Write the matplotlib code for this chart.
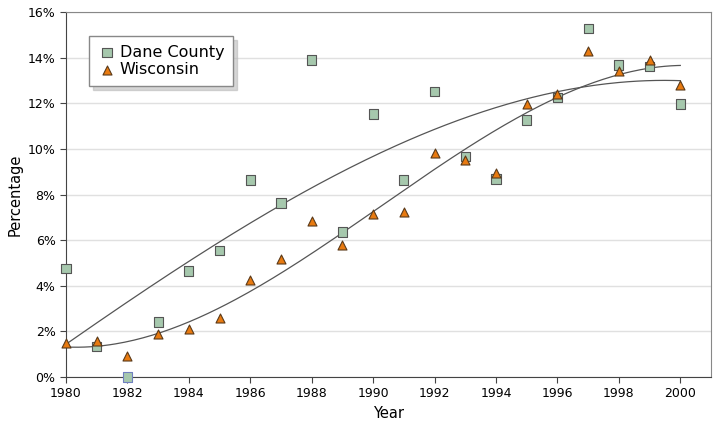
import numpy as np
import matplotlib.pyplot as plt
from matplotlib.ticker import FuncFormatter

years = np.arange(1980, 2001)
dane = [4.74, 1.32, 0.0, 2.41, 4.65, 5.53, 8.64, 7.63, 13.9, 6.36, 11.53,
        8.64, 12.5, 9.65, 8.68, 11.27, 12.24, 15.26, 13.68, 13.6, 11.97]
wisc = [1.49, 1.58, 0.92, 1.89, 2.10, 2.59, 4.25, 5.18, 6.84, 5.79, 7.15,
        7.24, 9.82, 9.52, 8.95, 11.97, 12.4, 14.3, 13.42, 13.9, 12.8]

fig = plt.figure(figsize=(7.15, 4.25), dpi=100)
ax = fig.add_axes([66/715, 1-377/425, (711-66)/715, (377-12)/425])

# trend lines (cubic fits)
xs = np.linspace(1980, 2000, 200)
for ser in (dane, wisc):
    c = np.polyfit(years - 1990, ser, 3)
    ax.plot(xs, np.polyval(c, xs - 1990), color="#555555", lw=0.9, zorder=2)

dane_edges = ["#555555"] * len(dane)
dane_edges[2] = "#7080c0"   # the 1982 point has a bluish outline
ax.scatter(years, dane, marker="s", s=44, c="#a6c8ad", edgecolors=dane_edges,
           linewidths=0.8, label="Dane County", zorder=3, clip_on=False)
ax.scatter(years, wisc, marker="^", s=42, c="#e87a10", edgecolors="#5a3a1a",
           linewidths=0.8, label="Wisconsin", zorder=4, clip_on=False)

ax.set_xlim(1980, 2001)
ax.set_ylim(0, 16)
ax.set_xticks(range(1980, 2001, 2))
ax.set_yticks(range(0, 17, 2))
ax.yaxis.set_major_formatter(FuncFormatter(lambda v, p: "%d%%" % v))
ax.grid(axis="y", color="#e0e0e0", lw=1)
ax.set_axisbelow(True)
for s in ("top", "right"):
    ax.spines[s].set_color("#888888")
for s in ("left", "bottom"):
    ax.spines[s].set_color("#444444")
ax.tick_params(labelsize=9, length=4, color="#444444")
ax.set_xlabel("Year", fontsize=10.5)
ax.set_ylabel("Percentage", fontsize=10.5)

leg = ax.legend(loc="upper left", bbox_to_anchor=(0.035, 0.935), fontsize=11.5,
                frameon=True, fancybox=False,
                shadow={"color": "#bbbbbb", "alpha": 0.6, "ox": 3, "oy": -3},
                handletextpad=0.2, borderpad=0.55, labelspacing=0.15,
                handlelength=1.2, borderaxespad=0)
leg.get_frame().set_edgecolor("#888888")
leg.get_frame().set_linewidth(1.0)

fig.savefig("out.png")
